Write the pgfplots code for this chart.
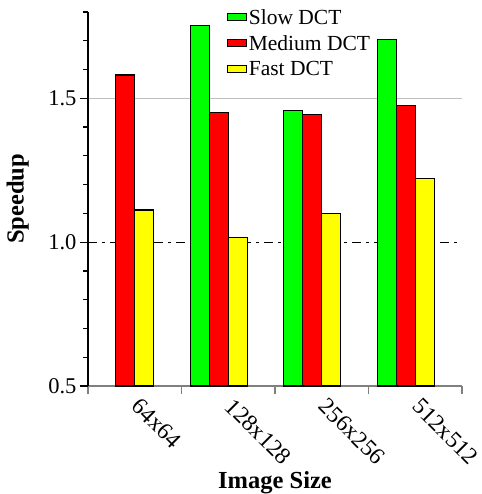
\documentclass[border=0pt]{standalone}
\usepackage{fontspec}
\setmainfont{Liberation Serif}
\usepackage{pgfplots}
\pgfplotsset{compat=1.18}
\definecolor{slowc}{HTML}{00FF00}
\definecolor{medc}{HTML}{FF0000}
\definecolor{fastc}{HTML}{FFFF00}
\pgfplotsset{/pgfplots/ybar legend/.style={/pgfplots/legend image code/.code={%
  \draw[##1, line width=1pt, bar shift=0pt] (0pt,-3.5pt) rectangle (19pt,3.5pt);}}}

\begin{document}
\begin{tikzpicture}
\begin{axis}[
  scale only axis, width=374pt, height=374pt,
  xmin=-0.5, xmax=3.5, ymin=0.5, ymax=1.8,
  axis lines*=left,
  x axis line style={gray, line width=1.2pt},
  y axis line style={black, line width=1.2pt},
  tick align=outside,
  major tick length=8pt, minor tick length=4.5pt,
  xtick={-0.5,0.5,1.5,2.5,3.5},
  xticklabels={64x64,128x128,256x256,512x512,},
  x tick style={gray, line width=1.2pt},
  x tick label style={xshift=53.5pt, yshift=2pt, rotate=-45, anchor=north west, font=\fontsize{23.5}{25}\selectfont},
  ytick={0.5,1.5}, yticklabels={0.5,1.5},
  minor ytick={0.6,0.7,0.8,0.9,1.1,1.2,1.3,1.4,1.6,1.7,1.8},
  y tick style={black, line width=1.2pt},
  y tick label style={font=\fontsize{22.5}{24}\selectfont},
  /pgf/number format/assume math mode=true,
  ymajorgrids, grid style={black!25, line width=1.2pt},
  extra y ticks={1.0}, extra y tick labels={1.0},
  extra y tick style={grid=major, grid style={black, line width=1pt, dash pattern=on 9pt off 5pt on 3pt off 5pt}},
  xlabel={Image Size}, ylabel={Speedup},
  xlabel style={font=\bfseries\fontsize{24.5}{26}\selectfont, at={(axis description cs:0.5,-0.258)}, anchor=center},
  ylabel style={font=\bfseries\fontsize{24.5}{26}\selectfont, at={(axis description cs:-0.188,0.5)}, anchor=center},
  ybar, bar width=19pt,
  legend style={draw=none, fill=none, at={(axis description cs:0.372,1.012)}, anchor=north west,
    font=\fontsize{21.5}{24}\selectfont, row sep=6.5pt, inner sep=0pt,
    nodes={inner sep=1.5pt}},
  legend cell align=left,
]
\coordinate (O) at (rel axis cs:0,0);
\addplot[fill=slowc, draw=black, line width=1.2pt, bar shift=-28.5pt]
  coordinates {(1,1.752) (2,1.457) (3,1.704)};
\addplot[fill=medc, draw=black, line width=1.2pt, bar shift=-9.5pt]
  coordinates {(0,1.581) (1,1.452) (2,1.444) (3,1.475)};
\addplot[fill=fastc, draw=black, line width=1.2pt, bar shift=9.5pt]
  coordinates {(0,1.112) (1,1.015) (2,1.100) (3,1.220)};
\legend{Slow DCT, Medium DCT, Fast DCT}
\end{axis}
\pgfresetboundingbox
\path[use as bounding box] (O) ++(-88pt,-108pt) rectangle ++(481pt,494pt);
\end{tikzpicture}
\end{document}
